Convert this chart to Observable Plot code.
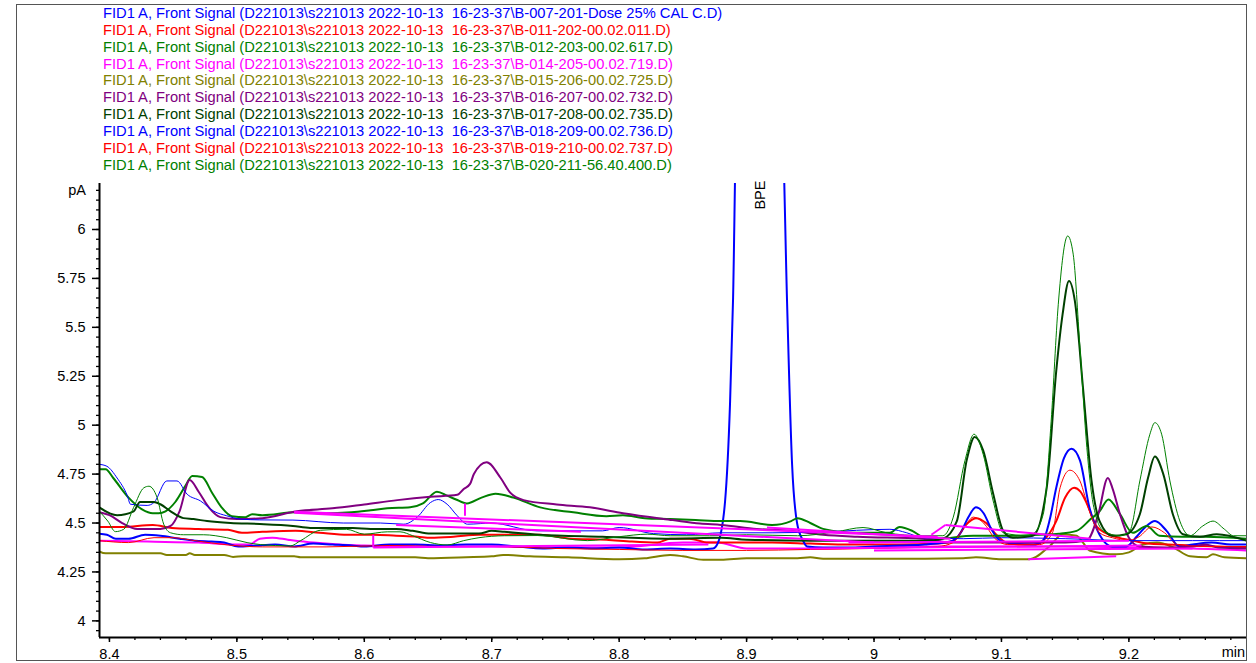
<!DOCTYPE html>
<html><head><meta charset="utf-8">
<script src="https://cdn.jsdelivr.net/npm/d3@7"></script>
<script src="https://cdn.jsdelivr.net/npm/@observablehq/plot@0.6"></script>
<style>
body{margin:0;background:#fff;}
#wrap{position:relative;width:1256px;height:663px;font-family:Arial,"Liberation Sans",sans-serif;overflow:hidden;}
#frame{position:absolute;left:16px;top:4px;width:1231px;height:657px;border:1px solid #555;box-sizing:border-box;}
#legend{position:absolute;left:103px;top:5px;font-size:14.7px;line-height:16.86px;white-space:pre;}
#chart{position:absolute;left:0;top:0;}
.unit{position:absolute;font-size:14.5px;line-height:14.5px;white-space:pre;}
</style></head>
<body>
<div id="wrap">
  <div id="frame"></div>
  <div id="chart"></div>
  <div id="legend"></div>
  <span class="unit" id="ylab" style="right:1170px;top:183px;">pA</span>
  <span class="unit" id="xlab" style="right:11px;top:645px;">min</span>
</div>
<script>
// ---------- data (time [min], signal [pA]) ----------
const legendLabels = [
  "FID1 A, Front Signal (D221013\\s221013 2022-10-13  16-23-37\\B-007-201-Dose 25% CAL C.D)",
  "FID1 A, Front Signal (D221013\\s221013 2022-10-13  16-23-37\\B-011-202-00.02.011.D)",
  "FID1 A, Front Signal (D221013\\s221013 2022-10-13  16-23-37\\B-012-203-00.02.617.D)",
  "FID1 A, Front Signal (D221013\\s221013 2022-10-13  16-23-37\\B-014-205-00.02.719.D)",
  "FID1 A, Front Signal (D221013\\s221013 2022-10-13  16-23-37\\B-015-206-00.02.725.D)",
  "FID1 A, Front Signal (D221013\\s221013 2022-10-13  16-23-37\\B-016-207-00.02.732.D)",
  "FID1 A, Front Signal (D221013\\s221013 2022-10-13  16-23-37\\B-017-208-00.02.735.D)",
  "FID1 A, Front Signal (D221013\\s221013 2022-10-13  16-23-37\\B-018-209-00.02.736.D)",
  "FID1 A, Front Signal (D221013\\s221013 2022-10-13  16-23-37\\B-019-210-00.02.737.D)",
  "FID1 A, Front Signal (D221013\\s221013 2022-10-13  16-23-37\\B-020-211-56.40.400.D)"
];

const s007 = [[8.392,4.445],[8.398,4.44],[8.405,4.42],[8.415,4.42],[8.428,4.44],[8.44,4.435],[8.455,4.42],[8.467,4.41],[8.48,4.405],[8.49,4.40],[8.501,4.38],[8.515,4.385],[8.53,4.39],[8.545,4.38],[8.56,4.395],[8.575,4.39],[8.59,4.385],[8.60,4.38],[8.62,4.39],[8.64,4.39],[8.66,4.385],[8.68,4.39],[8.70,4.39],[8.72,4.38],[8.74,4.37],[8.76,4.375],[8.78,4.37],[8.80,4.375],[8.82,4.365],[8.84,4.37],[8.86,4.365],[8.8737,4.37],[8.8776,4.40],[8.8831,4.61],[8.887,5.11],[8.8894,5.65],[8.892,6.6],[8.91,8.0],[8.928,6.6],[8.9318,5.62],[8.9357,4.80],[8.9396,4.50],[8.9443,4.41],[8.9475,4.38],[8.96,4.375],[8.98,4.375],[9.0,4.38],[9.02,4.385],[9.04,4.39],[9.055,4.40],[9.062,4.41],[9.068,4.45],[9.074,4.53],[9.080,4.58],[9.086,4.55],[9.092,4.47],[9.099,4.41],[9.11,4.395],[9.125,4.39],[9.1325,4.41],[9.138,4.52],[9.143,4.68],[9.149,4.83],[9.155,4.88],[9.1616,4.82],[9.169,4.58],[9.177,4.44],[9.187,4.38],[9.198,4.38],[9.206,4.43],[9.213,4.48],[9.2205,4.51],[9.2296,4.46],[9.2396,4.38],[9.25,4.39],[9.265,4.40],[9.28,4.39],[9.2923,4.39]];

const s011 = [[8.392,4.48],[8.41,4.48],[8.434,4.49],[8.449,4.475],[8.47,4.47],[8.493,4.465],[8.504,4.45],[8.52,4.455],[8.546,4.46],[8.565,4.45],[8.587,4.44],[8.607,4.44],[8.625,4.435],[8.642,4.43],[8.652,4.425],[8.67,4.43],[8.69,4.44],[8.71,4.44],[8.738,4.44],[8.762,4.42],[8.79,4.415],[8.81,4.405],[8.83,4.40],[8.84,4.42],[8.855,4.42],[8.87,4.40],[8.89,4.40],[8.92,4.40],[8.95,4.395],[8.98,4.39],[9.02,4.39],[9.05,4.395],[9.058,4.40],[9.065,4.425],[9.072,4.49],[9.08,4.525],[9.088,4.50],[9.096,4.44],[9.104,4.40],[9.115,4.39],[9.127,4.39],[9.135,4.425],[9.143,4.51],[9.150,4.63],[9.157,4.68],[9.162,4.66],[9.167,4.60],[9.175,4.48],[9.185,4.44],[9.195,4.42],[9.203,4.41],[9.215,4.395],[9.23,4.39],[9.25,4.385],[9.27,4.38],[9.2923,4.375]];

const s012 = [[8.392,4.775],[8.397,4.775],[8.403,4.73],[8.415,4.63],[8.4256,4.57],[8.434,4.55],[8.4386,4.55],[8.444,4.56],[8.452,4.61],[8.4596,4.69],[8.465,4.74],[8.4727,4.735],[8.4805,4.655],[8.488,4.58],[8.496,4.535],[8.5067,4.53],[8.512,4.545],[8.52,4.54],[8.546,4.555],[8.568,4.55],[8.59,4.555],[8.605,4.565],[8.618,4.575],[8.636,4.58],[8.646,4.60],[8.657,4.66],[8.665,4.64],[8.672,4.62],[8.6805,4.60],[8.692,4.63],[8.703,4.65],[8.717,4.63],[8.738,4.58],[8.764,4.555],[8.79,4.535],[8.803,4.54],[8.82,4.525],[8.84,4.52],[8.86,4.515],[8.88,4.51],[8.895,4.51],[8.92,4.49],[8.935,4.51],[8.94,4.525],[8.95,4.50],[8.96,4.47],[8.987,4.45],[9.0125,4.45],[9.02,4.48],[9.03,4.46],[9.038,4.43],[9.05,4.42],[9.078,4.435],[9.109,4.435],[9.13,4.44],[9.145,4.445],[9.159,4.46],[9.17,4.52],[9.177,4.56],[9.184,4.62],[9.193,4.545],[9.203,4.45],[9.214,4.485],[9.224,4.435],[9.242,4.43],[9.26,4.43],[9.2923,4.42]];

const s014 = [[8.392,4.41],[8.43,4.405],[8.47,4.40],[8.50,4.39],[8.51,4.39],[8.518,4.42],[8.528,4.425],[8.54,4.415],[8.56,4.40],[8.58,4.39],[8.60,4.385],[8.65,4.38],[8.70,4.38],[8.75,4.375],[8.80,4.375],[8.85,4.40],[8.877,4.40],[8.90,4.37],[8.95,4.37],[9.0,4.375],[9.05,4.38],[9.1,4.38],[9.15,4.38],[9.2,4.375],[9.25,4.37],[9.2923,4.36]];

const s015 = [[8.392,4.355],[8.397,4.345],[8.44,4.345],[8.445,4.337],[8.46,4.337],[8.463,4.345],[8.467,4.337],[8.49,4.337],[8.497,4.327],[8.505,4.33],[8.52,4.33],[8.545,4.33],[8.55,4.325],[8.60,4.325],[8.64,4.325],[8.65,4.32],[8.68,4.325],[8.70,4.33],[8.709,4.337],[8.73,4.33],[8.76,4.325],[8.8,4.315],[8.82,4.32],[8.84,4.337],[8.85,4.33],[8.866,4.312],[8.88,4.312],[8.90,4.32],[8.94,4.32],[8.95,4.325],[8.96,4.318],[9.0,4.318],[9.04,4.318],[9.07,4.32],[9.08,4.325],[9.1,4.315],[9.122,4.315],[9.138,4.383],[9.148,4.443],[9.159,4.435],[9.164,4.40],[9.169,4.36],[9.19,4.34],[9.2,4.35],[9.211,4.39],[9.222,4.40],[9.235,4.375],[9.248,4.33],[9.261,4.325],[9.266,4.34],[9.275,4.325],[9.2923,4.32]];

const s016 = [[8.392,4.555],[8.40,4.54],[8.41,4.50],[8.4217,4.47],[8.44,4.47],[8.448,4.485],[8.455,4.56],[8.463,4.72],[8.47,4.66],[8.478,4.58],[8.487,4.53],[8.50,4.52],[8.52,4.525],[8.547,4.56],[8.575,4.575],[8.60,4.595],[8.626,4.617],[8.652,4.634],[8.673,4.644],[8.678,4.674],[8.683,4.70],[8.686,4.75],[8.696,4.81],[8.707,4.73],[8.7145,4.655],[8.725,4.617],[8.751,4.595],[8.777,4.58],[8.803,4.55],[8.842,4.515],[8.8635,4.497],[8.88,4.49],[8.908,4.47],[8.934,4.46],[8.96,4.44],[8.987,4.43],[9.038,4.42],[9.06,4.40],[9.10,4.40],[9.15,4.40],[9.167,4.41],[9.176,4.545],[9.1835,4.73],[9.187,4.68],[9.193,4.545],[9.2,4.425],[9.2086,4.38],[9.23,4.375],[9.25,4.38],[9.26,4.39],[9.27,4.375],[9.2923,4.37]];

const s017 = [[8.392,4.58],[8.406,4.54],[8.419,4.56],[8.424,4.608],[8.4347,4.608],[8.44,4.596],[8.448,4.56],[8.458,4.525],[8.466,4.52],[8.4766,4.51],[8.495,4.50],[8.518,4.495],[8.544,4.485],[8.5576,4.475],[8.591,4.475],[8.605,4.47],[8.625,4.47],[8.638,4.46],[8.652,4.446],[8.69,4.446],[8.70,4.46],[8.71,4.455],[8.737,4.44],[8.787,4.43],[8.84,4.42],[8.88,4.425],[8.90,4.415],[8.95,4.41],[9.0,4.41],[9.04,4.41],[9.054,4.42],[9.065,4.51],[9.0727,4.82],[9.079,4.94],[9.0857,4.87],[9.0935,4.65],[9.1014,4.46],[9.109,4.425],[9.1247,4.435],[9.1355,4.68],[9.143,5.277],[9.148,5.567],[9.153,5.737],[9.1576,5.635],[9.164,5.19],[9.1707,4.715],[9.177,4.51],[9.187,4.435],[9.198,4.443],[9.2086,4.545],[9.215,4.73],[9.2204,4.84],[9.227,4.75],[9.2345,4.545],[9.2424,4.443],[9.2557,4.43],[9.269,4.443],[9.2923,4.41]];

const s018 = [[8.392,4.80],[8.398,4.79],[8.406,4.73],[8.414,4.64],[8.4165,4.596],[8.4296,4.59],[8.435,4.605],[8.445,4.715],[8.453,4.715],[8.461,4.647],[8.4714,4.613],[8.482,4.56],[8.492,4.537],[8.503,4.52],[8.518,4.516],[8.544,4.515],[8.5835,4.50],[8.6125,4.50],[8.631,4.494],[8.6415,4.53],[8.652,4.605],[8.658,4.62],[8.665,4.596],[8.673,4.537],[8.681,4.494],[8.691,4.497],[8.699,4.50],[8.7357,4.46],[8.787,4.46],[8.8,4.477],[8.827,4.446],[8.853,4.44],[8.88,4.45],[8.92,4.45],[8.96,4.455],[9.0125,4.468],[9.0257,4.45],[9.038,4.425],[9.07,4.42],[9.1,4.425],[9.15,4.42],[9.2,4.41],[9.25,4.41],[9.2923,4.41]];

const s019 = [[8.392,4.41],[8.415,4.40],[8.435,4.425],[8.45,4.425],[8.467,4.41],[8.493,4.388],[8.52,4.378],[8.57,4.378],[8.62,4.385],[8.66,4.38],[8.70,4.38],[8.75,4.37],[8.80,4.365],[8.85,4.36],[8.90,4.36],[8.95,4.365],[9.0,4.37],[9.05,4.38],[9.062,4.40],[9.07,4.47],[9.078,4.53],[9.086,4.50],[9.095,4.42],[9.105,4.39],[9.13,4.39],[9.14,4.45],[9.146,4.68],[9.1537,4.77],[9.1616,4.715],[9.169,4.56],[9.177,4.45],[9.187,4.425],[9.20,4.41],[9.208,4.43],[9.218,4.48],[9.228,4.45],[9.238,4.39],[9.26,4.38],[9.2923,4.38]];

const s020 = [[8.392,4.56],[8.3987,4.51],[8.4047,4.456],[8.4112,4.468],[8.419,4.58],[8.427,4.68],[8.431,4.688],[8.4374,4.63],[8.4426,4.494],[8.448,4.45],[8.4583,4.44],[8.474,4.44],[8.492,4.425],[8.508,4.40],[8.5184,4.39],[8.542,4.383],[8.55,4.41],[8.5655,4.463],[8.586,4.468],[8.60,4.443],[8.618,4.455],[8.628,4.455],[8.638,4.435],[8.652,4.40],[8.665,4.388],[8.678,4.41],[8.69,4.425],[8.71,4.435],[8.736,4.436],[8.775,4.41],[8.80,4.43],[8.822,4.443],[8.84,4.435],[8.871,4.435],[8.9,4.44],[8.94,4.435],[8.97,4.455],[8.9914,4.477],[9.01,4.45],[9.038,4.435],[9.054,4.435],[9.0622,4.53],[9.0714,4.82],[9.0785,4.954],[9.0857,4.85],[9.0935,4.613],[9.1014,4.45],[9.12,4.435],[9.1247,4.445],[9.1328,4.545],[9.139,5.02],[9.1446,5.618],[9.152,5.967],[9.1563,5.874],[9.1616,5.397],[9.167,4.886],[9.172,4.596],[9.18,4.46],[9.193,4.435],[9.2007,4.46],[9.2086,4.715],[9.2165,4.954],[9.2204,5.013],[9.2257,4.954],[9.2322,4.715],[9.24,4.51],[9.2479,4.435],[9.258,4.485],[9.266,4.51],[9.275,4.468],[9.282,4.435],[9.2923,4.435]];

// integration baselines / peak markers of B-014 (t1, v1, t2, v2)
const baselines = [
  [8.545,4.557,9.05,4.43],
  [8.545,4.552,9.0,4.40],
  [8.625,4.49,8.77,4.455],
  [8.607,4.375,8.87,4.39],
  [8.607,4.44,8.607,4.375],
  [8.679,4.60,8.679,4.537],
  [8.916,4.477,9.06,4.42],
  [9.045,4.44,9.056,4.49],
  [9.056,4.49,9.17,4.42],
  [8.98,4.40,9.20,4.41],
  [8.95,4.37,9.21,4.385],
  [9.0,4.36,9.25,4.37],
  [9.121,4.315,9.19,4.33]
];

const peakLabels = [{t: 8.9106, v: 6.25, name: "BPE"}];

const xMajor = [8.4, 8.5, 8.6, 8.7, 8.8, 8.9, 9, 9.1, 9.2];
const xMinor = d3.range(0, 45).map(i => +(8.40 + i * 0.02).toFixed(2));
const yMajor = [4, 4.25, 4.5, 4.75, 5, 5.25, 5.5, 5.75, 6];
const yMinor = d3.range(0, 46).map(i => +(3.95 + i * 0.05).toFixed(2));
const xDomain = [8.3922, 9.2923];
const yDomain = [3.915, 6.235];

// ---------- styles ----------
const seriesData = [s007, s011, s012, s014, s015, s016, s017, s018, s019, s020];
const colors = ["#0000ff","#ff0000","#008000","#ff00ff","#808000","#800080","#004000","#0000ff","#ff0000","#008000"];
const widths = [2,2,2,2,2,2,2,1,1,1];
const drawOrder = [4,3,1,0,2,5,8,7,6,9];

// legend
const leg = document.getElementById("legend");
legendLabels.forEach((t, i) => {
  const d = document.createElement("div");
  d.textContent = t;
  d.style.color = colors[i];
  leg.appendChild(d);
});

const lineMarks = drawOrder.map(i => Plot.line(seriesData[i], {
  x: d => d[0], y: d => d[1], curve: "monotone-x",
  stroke: colors[i], strokeWidth: widths[i], strokeLinejoin: "round", clip: true
}));

const chart = Plot.plot({
  width: 1256, height: 663,
  marginTop: 183, marginBottom: 26, marginLeft: 99, marginRight: 10,
  x: {domain: xDomain, label: null},
  y: {domain: yDomain, label: null},
  style: {fontFamily: "Arial, 'Liberation Sans', sans-serif", fontSize: "14.5px", color: "#000", background: "transparent"},
  marks: [
    ...lineMarks,
    Plot.link(baselines, {x1: d => d[0], y1: d => d[1], x2: d => d[2], y2: d => d[3],
      stroke: "#ff00ff", strokeWidth: 2, clip: true}),
    Plot.text(peakLabels, {x: "t", y: "v", text: "name", rotate: -90, textAnchor: "end",
      lineAnchor: "middle", fontSize: 14.5, fill: "#000"}),
    Plot.axisX({ticks: xMinor, tickSize: 3, tickFormat: () => "", label: null, strokeWidth: 1.3}),
    Plot.axisX({ticks: xMajor, tickSize: 5, tickPadding: 6, tickFormat: d => String(d), label: null, strokeWidth: 1.5}),
    Plot.axisY({ticks: yMinor, tickSize: 3, tickFormat: () => "", label: null, strokeWidth: 1.3}),
    Plot.axisY({ticks: yMajor, tickSize: 7, tickPadding: 7, tickFormat: d => String(d), label: null, strokeWidth: 1.5}),
    Plot.ruleX([xDomain[0]], {stroke: "#000", strokeWidth: 2}),
    Plot.ruleY([yDomain[0]], {stroke: "#000", strokeWidth: 2})
  ]
});
document.getElementById("chart").appendChild(chart);
</script>
</body></html>
